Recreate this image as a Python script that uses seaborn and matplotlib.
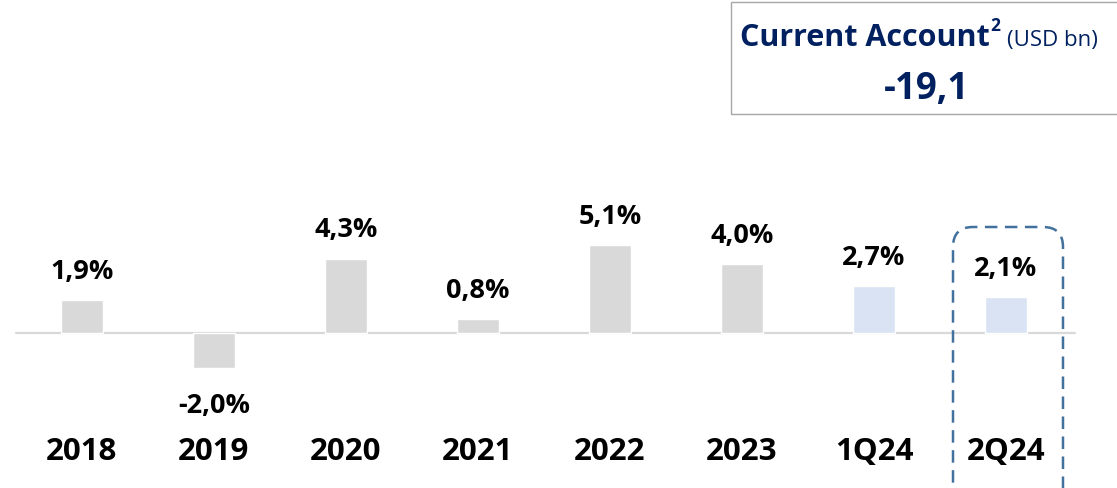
import matplotlib.pyplot as plt
import pandas as pd
import seaborn as sns
from matplotlib.patches import FancyBboxPatch, Rectangle

periods = ["2018", "2019", "2020", "2021", "2022", "2023", "1Q24", "2Q24"]
gdp_growth = [1.9, -2.0, 4.3, 0.8, 5.1, 4.0, 2.7, 2.1]
value_labels = ["1,9%", "-2,0%", "4,3%", "0,8%", "5,1%", "4,0%", "2,7%", "2,1%"]
bar_colors = ["#D9D9D9"] * 6 + ["#DAE3F3"] * 2
current_account = "-19,1"

NAVY = "#002060"


def build_chart(df):
    sns.set_theme(style="white")
    plt.rcParams["font.family"] = ["Open Sans", "DejaVu Sans"]

    fig = plt.figure(figsize=(11.17, 4.89), dpi=100)
    ax = fig.add_axes([0, 0, 1, 1])
    sns.barplot(
        data=df, x="period", y="growth", hue="period", palette=bar_colors,
        width=0.32, legend=False, ax=ax, saturation=1,
    )
    ax.set_xlim(-0.621, 7.841)
    ax.set_ylim(-155 / 17.3, 334 / 17.3)
    ax.axis("off")
    ax.axhline(0, xmin=16 / 1117, xmax=1075 / 1117, color="#D9D9D9", lw=1.6, zorder=0)

    for i, row in df.iterrows():
        off = 21 if row["growth"] >= 0 else -27
        ax.annotate(row["label"], (i, row["growth"]), xytext=(0, off),
                    textcoords="offset points", ha="center", va="center",
                    fontsize=19.5, fontweight="bold", color="black")
        ax.annotate(row["period"], (i, 0), xytext=(0, -85),
                    textcoords="offset points", ha="center", va="center",
                    fontsize=22.5, fontweight="bold", color="black")

    # highlight around latest quarter
    inch = fig.dpi_scale_trans
    fig.add_artist(FancyBboxPatch(
        (9.53, -0.4), 1.10, 2.63 + 0.4 - 0.02,
        boxstyle="round,pad=0,rounding_size=0.2", transform=inch,
        fill=False, edgecolor="#41719C", lw=1.8, linestyle=(0, (5, 3))))

    # current account box
    fig.add_artist(Rectangle((7.31, 3.74), 4.2, 1.12, transform=inch,
                             fill=False, edgecolor="#A6A6A6", lw=1))

    fig.canvas.draw()
    r = fig.canvas.get_renderer()
    t1 = fig.text(7.40, 4.51, "Current Account", transform=inch, fontsize=22,
                  fontweight="bold", color=NAVY, ha="left", va="center")
    x = t1.get_window_extent(r).x1 / 100 + 0.01
    t2 = fig.text(x, 4.63, "2", transform=inch, fontsize=12.5, fontweight="bold",
                  color=NAVY, ha="left", va="center")
    x = t2.get_window_extent(r).x1 / 100 + 0.06
    fig.text(x, 4.48, "(USD bn)", transform=inch, fontsize=16,
             color=NAVY, ha="left", va="center")
    fig.text(9.265, 4.0, current_account, transform=inch, fontsize=26.5,
             fontweight="bold", color=NAVY, ha="center", va="center")
    return fig


if __name__ == "__main__":
    df = pd.DataFrame({"period": periods, "growth": gdp_growth, "label": value_labels})
    fig = build_chart(df)
    fig.savefig("out.png", dpi=100)
